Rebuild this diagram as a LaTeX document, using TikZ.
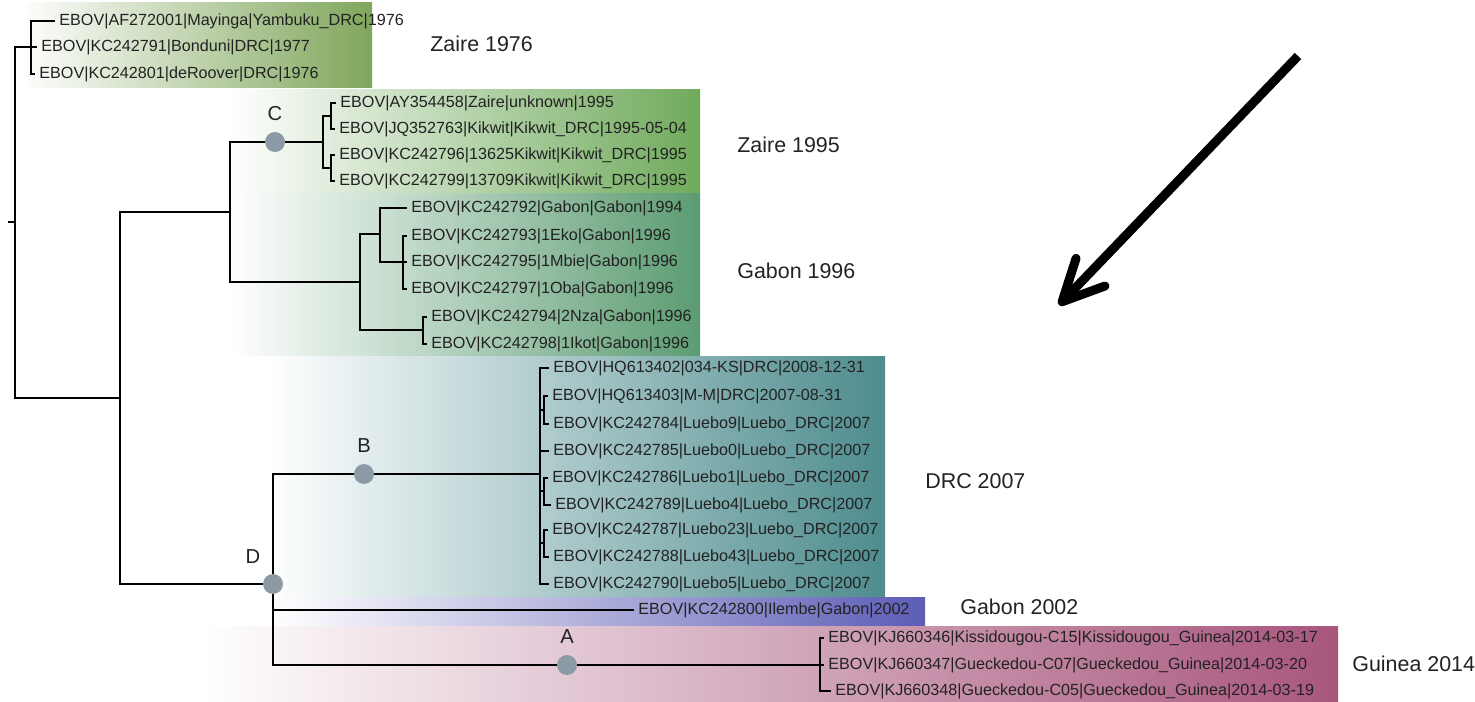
\documentclass[tikz,border=0pt]{standalone}
\usepackage{fontspec}
\setmainfont{Liberation Sans}
\usepackage{tikz}
\usetikzlibrary{arrows.meta}

\definecolor{zaireOld}{RGB}{128,166,92}
\definecolor{zaireNew}{RGB}{112,170,92}
\definecolor{gabonOld}{RGB}{92,156,114}
\definecolor{drcTeal}{RGB}{78,140,142}
\definecolor{gabonBlue}{RGB}{92,92,182}
\definecolor{guineaRed}{RGB}{168,86,124}
\definecolor{dotGrey}{RGB}{140,154,166}
\definecolor{leafInk}{RGB}{34,34,34}

\tikzstyle{branch} = [line width=1.3pt, black]
\tikzstyle{leafName} = [anchor=west, inner xsep=2.3pt, inner ysep=0pt, text=leafInk,
   font=\fontsize{9.2}{10}\selectfont]
\tikzstyle{cladeName} = [anchor=west, inner sep=0pt, text=leafInk,
   font=\fontsize{12.2}{14}\selectfont]
\tikzstyle{nodeDot} = [circle, fill=dotGrey, inner sep=0pt, minimum size=0.4cm]
\tikzstyle{dotLetter} = [inner sep=0pt, text=leafInk, node distance=0.56cm,
   font=\fontsize{11.5}{13}\selectfont]

\begin{document}
\begin{tikzpicture}[x=0.02cm, y=-0.02cm]
  \useasboundingbox (0,0) rectangle (1475,702);

  % clade boxes
  \shade[left color=white, right color=zaireOld] (20,3) rectangle (372,88);
  \shade[left color=white, right color=zaireNew] (230,90) rectangle (700,194);
  \shade[left color=white, right color=gabonOld] (230,194) rectangle (700,356);
  \shade[left color=white, right color=drcTeal] (270,357) rectangle (885,597);
  \shade[left color=white, right color=gabonBlue] (273,598) rectangle (925,625);
  \shade[left color=white, right color=guineaRed] (200,626) rectangle (1338,702);

  % inner nodes of the tree
  \coordinate (root0) at (8,222);
  \coordinate (root) at (15,222);
  \coordinate (z76) at (31,47);
  \coordinate (n1) at (120,398);
  \coordinate (n2) at (230,212);
  \coordinate (c) at (323,142);
  \coordinate (c1) at (331,116);
  \coordinate (c2) at (331,168);
  \coordinate (g) at (360,282);
  \coordinate (g1) at (380,234);
  \coordinate (g2) at (403,262);
  \coordinate (g3) at (423,330);
  \coordinate (drc) at (540,474);
  \coordinate (p1) at (544,410);
  \coordinate (p2) at (544,491);
  \coordinate (p3) at (544,543);
  \coordinate (gu) at (820,665);

  \node[nodeDot] (cDot) at (275,142) {};
  \node[nodeDot] (bDot) at (364,474) {};
  \node[nodeDot] (dDot) at (273,584) {};
  \node[nodeDot] (aDot) at (567,665) {};
  \node[dotLetter, above of=cDot] (cLbl) {C};
  \node[dotLetter, above of=bDot] (bLbl) {B};
  \node[dotLetter, above of=aDot] (aLbl) {A};
  \node[dotLetter] (dLbl) at (253,557) {D};

  % leaves
  \node[leafName] (z76a) at (55,21) {EBOV|AF272001|Mayinga|Yambuku\_DRC|1976};
  \node[leafName] (z76b) at (37,47) {EBOV|KC242791|Bonduni|DRC|1977};
  \node[leafName] (z76c) at (35,74) {EBOV|KC242801|deRoover|DRC|1976};
  \node[leafName] (z95a) at (336,103) {EBOV|AY354458|Zaire|unknown|1995};
  \node[leafName] (z95b) at (335,129) {EBOV|JQ352763|Kikwit|Kikwit\_DRC|1995-05-04};
  \node[leafName] (z95c) at (335,155) {EBOV|KC242796|13625Kikwit|Kikwit\_DRC|1995};
  \node[leafName] (z95d) at (335,181) {EBOV|KC242799|13709Kikwit|Kikwit\_DRC|1995};
  \node[leafName] (g96a) at (407,208) {EBOV|KC242792|Gabon|Gabon|1994};
  \node[leafName] (g96b) at (407,236) {EBOV|KC242793|1Eko|Gabon|1996};
  \node[leafName] (g96c) at (407,262) {EBOV|KC242795|1Mbie|Gabon|1996};
  \node[leafName] (g96d) at (407,289) {EBOV|KC242797|1Oba|Gabon|1996};
  \node[leafName] (g96e) at (427,317) {EBOV|KC242794|2Nza|Gabon|1996};
  \node[leafName] (g96f) at (427,344) {EBOV|KC242798|1Ikot|Gabon|1996};
  \node[leafName] (d07a) at (549,368) {EBOV|HQ613402|034-KS|DRC|2008-12-31};
  \node[leafName] (d07b) at (548,396) {EBOV|HQ613403|M-M|DRC|2007-08-31};
  \node[leafName] (d07c) at (549,424) {EBOV|KC242784|Luebo9|Luebo\_DRC|2007};
  \node[leafName] (d07d) at (549,451) {EBOV|KC242785|Luebo0|Luebo\_DRC|2007};
  \node[leafName] (d07e) at (548,478) {EBOV|KC242786|Luebo1|Luebo\_DRC|2007};
  \node[leafName] (d07f) at (551,505) {EBOV|KC242789|Luebo4|Luebo\_DRC|2007};
  \node[leafName] (d07g) at (548,530) {EBOV|KC242787|Luebo23|Luebo\_DRC|2007};
  \node[leafName] (d07h) at (549,557) {EBOV|KC242788|Luebo43|Luebo\_DRC|2007};
  \node[leafName] (d07i) at (549,584) {EBOV|KC242790|Luebo5|Luebo\_DRC|2007};
  \node[leafName] (g02) at (634,610) {EBOV|KC242800|Ilembe|Gabon|2002};
  \node[leafName] (gu1) at (824,638) {EBOV|KJ660346|Kissidougou-C15|Kissidougou\_Guinea|2014-03-17};
  \node[leafName] (gu2) at (824,665) {EBOV|KJ660347|Gueckedou-C07|Gueckedou\_Guinea|2014-03-20};
  \node[leafName] (gu3) at (831,691) {EBOV|KJ660348|Gueckedou-C05|Gueckedou\_Guinea|2014-03-19};

  % clade names
  \node[cladeName] (zaire76) at (430,44) {Zaire 1976};
  \node[cladeName] (zaire95) at (737,145) {Zaire 1995};
  \node[cladeName] (gabon96) at (737,271) {Gabon 1996};
  \node[cladeName] (drc07) at (925,481) {DRC 2007};
  \node[cladeName] (gabon02) at (960,607) {Gabon 2002};
  \node[cladeName] (guinea14) at (1352,664) {Guinea 2014};

  % branches
  \draw[branch] (root0) -- (root);
  \draw[branch] (root) |- (z76);
  \draw[branch] (root) |- (n1);
  \draw[branch] (z76) |- (z76a.west);
  \draw[branch] (z76) -- (z76b.west);
  \draw[branch] (z76) |- (z76c.west);
  \draw[branch] (n1) |- (n2);
  \draw[branch] (n1) |- (dDot);
  \draw[branch] (n2) |- (cDot);
  \draw[branch] (cDot) -- (c);
  \draw[branch] (c) |- (c1);
  \draw[branch] (c) |- (c2);
  \draw[branch] (c1) |- (z95a.west);
  \draw[branch] (c1) |- (z95b.west);
  \draw[branch] (c2) |- (z95c.west);
  \draw[branch] (c2) |- (z95d.west);
  \draw[branch] (n2) |- (g);
  \draw[branch] (g) |- (g1);
  \draw[branch] (g) |- (g3);
  \draw[branch] (g1) |- (g96a.west);
  \draw[branch] (g1) |- (g2);
  \draw[branch] (g2) |- (g96b.west);
  \draw[branch] (g2) -- (g96c.west);
  \draw[branch] (g2) |- (g96d.west);
  \draw[branch] (g3) |- (g96e.west);
  \draw[branch] (g3) |- (g96f.west);
  \draw[branch] (dDot) |- (bDot);
  \draw[branch] (bDot) -- (drc);
  \draw[branch] (drc) |- (d07a.west);
  \draw[branch] (drc) |- (p1);
  \draw[branch] (p1) |- (d07b.west);
  \draw[branch] (p1) |- (d07c.west);
  \draw[branch] (drc) |- (d07d.west);
  \draw[branch] (drc) |- (p2);
  \draw[branch] (p2) |- (d07e.west);
  \draw[branch] (p2) |- (d07f.west);
  \draw[branch] (drc) |- (p3);
  \draw[branch] (p3) |- (d07g.west);
  \draw[branch] (p3) |- (d07h.west);
  \draw[branch] (drc) |- (d07i.west);
  \draw[branch] (dDot) |- (g02.west);
  \draw[branch] (dDot) |- (aDot);
  \draw[branch] (aDot) -- (gu);
  \draw[branch] (gu) |- (gu1.west);
  \draw[branch] (gu) -- (gu2.west);
  \draw[branch] (gu) |- (gu3.west);

  % big pointer
  \coordinate (arrowTail) at (1298,56);
  \coordinate (arrowTip) at (1059,305);
  \draw[line width=0.18cm, -{Straight Barb[length=0.82cm, width=0.8cm, round]}]
    (arrowTail) -- (arrowTip);
\end{tikzpicture}
\end{document}
